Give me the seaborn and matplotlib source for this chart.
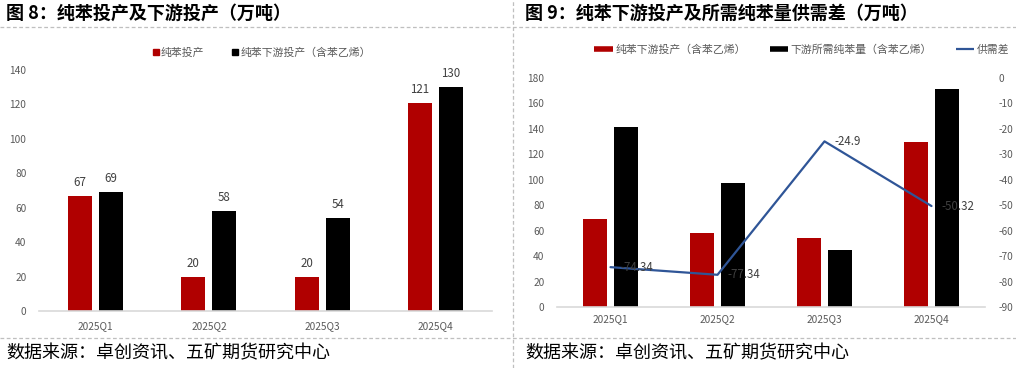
import numpy as np
import pandas as pd
import matplotlib
matplotlib.use("Agg")
import matplotlib.pyplot as plt
import seaborn as sns
from matplotlib.lines import Line2D

# ---------------- data ----------------
quarters = ["2025Q1", "2025Q2", "2025Q3", "2025Q4"]
benzene_capacity = [67, 20, 20, 121]            # 纯苯投产
downstream_capacity = [69, 58, 54, 130]         # 纯苯下游投产（含苯乙烯）
benzene_required = [141.34, 97.34, 44.9, 171.32]  # 下游所需纯苯量（含苯乙烯）
supply_demand_gap = [-74.34, -77.34, -24.9, -50.32]  # 供需差

left_series = ["纯苯投产", "纯苯下游投产（含苯乙烯）"]
right_series = ["纯苯下游投产（含苯乙烯）", "下游所需纯苯量（含苯乙烯）"]
gap_name = "供需差"

title_left = "图 8：纯苯投产及下游投产（万吨）"
title_right = "图 9：纯苯下游投产及所需纯苯量供需差（万吨）"
source_text = "数据来源：卓创资讯、五矿期货研究中心"

RED = "#B00000"
BLACK = "#000000"
BLUE = "#2F5597"
GRAY = "#595959"
LABEL = "#404040"

sns.set_style("white")
plt.rcParams["font.family"] = ["Noto Sans CJK SC", "DejaVu Sans"]
plt.rcParams["axes.unicode_minus"] = False

W, H = 1016, 368
fig = plt.figure(figsize=(W / 100, H / 100), dpi=100)


def px_axes(x0, x1, ytop, ybot):
    return fig.add_axes([x0 / W, 1 - ybot / H, (x1 - x0) / W, (ybot - ytop) / H])


def style_axes(ax):
    for s in ["top", "right", "left"]:
        ax.spines[s].set_visible(False)
    ax.spines["bottom"].set_color("#d9d9d9")
    ax.spines["bottom"].set_linewidth(1.2)
    ax.tick_params(axis="both", length=0, labelsize=7.3, labelcolor=GRAY)
    ax.set_xlabel("")
    ax.set_ylabel("")


# ---------------- left chart ----------------
df_left = pd.DataFrame({
    "quarter": quarters * 2,
    "value": benzene_capacity + downstream_capacity,
    "series": [left_series[0]] * 4 + [left_series[1]] * 4,
})
axL = px_axes(39, 492, 70, 311)
sns.barplot(data=df_left, x="quarter", y="value", hue="series",
            palette=[RED, BLACK], saturation=1, width=0.55, gap=0.23,
            linewidth=0, legend=False, ax=axL)
axL.set_ylim(0, 140)
axL.set_yticks(np.arange(0, 141, 20))
axL.set_xlim(-0.5, 3.5)
style_axes(axL)
axL.tick_params(axis="y", pad=9)
axL.tick_params(axis="x", pad=7)
for cont in axL.containers:
    axL.bar_label(cont, fmt="%d", padding=5, fontsize=8.3, color=LABEL)

legL = axL.legend(
    handles=[Line2D([], [], marker="s", ls="", color=RED, markersize=4),
             Line2D([], [], marker="s", ls="", color=BLACK, markersize=4)],
    labels=left_series, loc="center", bbox_to_anchor=(261 / W, 1 - 53 / H),
    bbox_transform=fig.transFigure, ncol=2, frameon=False, fontsize=7.8,
    handletextpad=0.1, columnspacing=2.4, handlelength=0.8)
for t in legL.get_texts():
    t.set_color(GRAY)

# ---------------- right chart ----------------
df_right = pd.DataFrame({
    "quarter": quarters * 2,
    "value": downstream_capacity + benzene_required,
    "series": [right_series[0]] * 4 + [right_series[1]] * 4,
})
axR = px_axes(557, 985, 78, 307)
sns.barplot(data=df_right, x="quarter", y="value", hue="series",
            palette=[RED, BLACK], saturation=1, width=0.58, gap=0.24,
            linewidth=0, legend=False, ax=axR)
axR.set_ylim(0, 180)
axR.set_yticks(np.arange(0, 181, 20))
axR.set_xlim(-0.5, 3.5)
style_axes(axR)
axR.tick_params(axis="y", pad=9)
axR.tick_params(axis="x", pad=5)

axR2 = axR.twinx()
df_gap = pd.DataFrame({"quarter": quarters, "gap": supply_demand_gap})
sns.lineplot(data=df_gap, x="quarter", y="gap", color=BLUE, linewidth=1.6,
             ax=axR2, legend=False)
axR2.set_ylim(-90, 0)
axR2.set_yticks(np.arange(-90, 1, 10))
axR2.set_xlim(-0.5, 3.5)
for s in ["top", "right", "left", "bottom"]:
    axR2.spines[s].set_visible(False)
axR2.tick_params(axis="y", length=0, labelsize=7.3, labelcolor=GRAY, pad=10)
axR2.set_ylabel("")
axR2.set_xlabel("")
for i, v in enumerate(supply_demand_gap):
    axR2.annotate(f"{v:g}", (i, v), xytext=(7, 0), textcoords="offset points",
                  ha="left", va="center", fontsize=8.3, color=LABEL)

legR = axR.legend(
    handles=[Line2D([], [], color=RED, lw=4, solid_capstyle="butt"),
             Line2D([], [], color=BLACK, lw=4, solid_capstyle="butt"),
             Line2D([], [], color=BLUE, lw=1.6, solid_capstyle="butt")],
    labels=right_series + [gap_name], loc="center",
    bbox_to_anchor=(802 / W, 1 - 50 / H), bbox_transform=fig.transFigure,
    ncol=3, frameon=False, fontsize=7.8, handlelength=1.7,
    handletextpad=0.25, columnspacing=2.2)
for t in legR.get_texts():
    t.set_color(GRAY)

# ---------------- frame: titles, sources, dashed lines ----------------
fig.text(6 / W, 1 - 13 / H, title_left, fontsize=13, fontweight="bold",
         ha="left", va="center", color="black")
fig.text(525 / W, 1 - 13 / H, title_right, fontsize=13, fontweight="bold",
         ha="left", va="center", color="black")
fig.text(6 / W, 1 - 353 / H, source_text, fontsize=13, ha="left",
         va="center", color="black")
fig.text(525 / W, 1 - 353 / H, source_text, fontsize=13, ha="left",
         va="center", color="black")

dash = dict(color="#bfbfbf", lw=0.9, ls=(0, (3, 2)), transform=fig.transFigure)
fig.add_artist(Line2D([0, 1], [1 - 27 / H, 1 - 27 / H], **dash))
fig.add_artist(Line2D([0, 1], [1 - 338 / H, 1 - 338 / H], **dash))
fig.add_artist(Line2D([513 / W, 513 / W], [0, 1], **dash))

fig.savefig("out.png", dpi=100)
